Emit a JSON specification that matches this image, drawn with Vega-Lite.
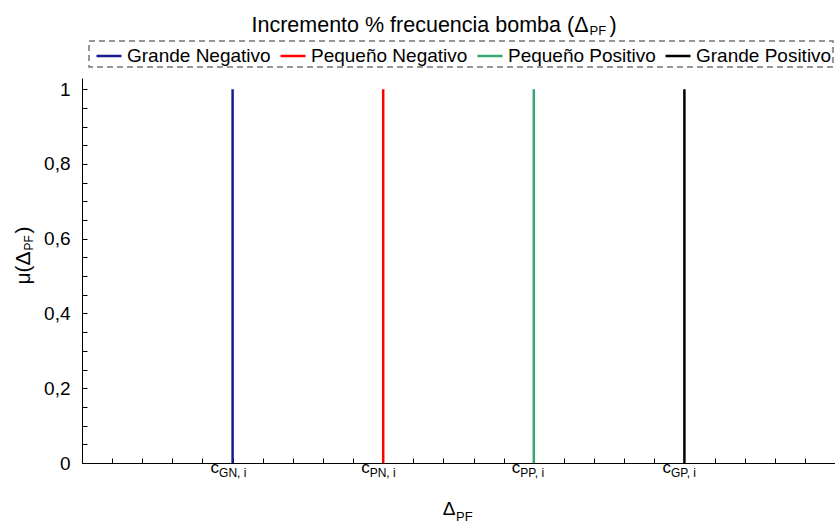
{
  "$schema": "https://vega.github.io/schema/vega-lite/v6.json",
  "width": 753,
  "height": 385,
  "autosize": {"type": "none"},
  "padding": {"left": 82, "top": 78, "right": 0, "bottom": 59},
  "config": {
    "font": "Liberation Sans",
    "view": {"stroke": null},
    "axis": {
      "grid": false,
      "domainColor": "#000000",
      "tickColor": "#000000",
      "labelColor": "#000000",
      "titleColor": "#000000",
      "titleFontWeight": "normal",
      "labelFont": "Liberation Sans",
      "titleFont": "Liberation Sans"
    }
  },
  "data": {
    "values": [
      {"serie": "Grande Negativo", "c": 5, "lo": 0, "hi": 1},
      {"serie": "Pequeño Negativo", "c": 10, "lo": 0, "hi": 1},
      {"serie": "Pequeño Positivo", "c": 15, "lo": 0, "hi": 1},
      {"serie": "Grande Positivo", "c": 20, "lo": 0, "hi": 1}
    ]
  },
  "resolve": {"axis": {"x": "independent", "y": "independent"}},
  "layer": [
    {
      "mark": {"type": "rule", "strokeWidth": 2.5},
      "encoding": {
        "x": {
          "field": "c", "type": "quantitative",
          "scale": {"domain": [0, 25], "nice": false, "zero": false},
          "axis": {
            "orient": "bottom",
            "values": [0,1,2,3,4,5,6,7,8,9,10,11,12,13,14,15,16,17,18,19,20,21,22,23,24,25],
            "tickSize": -5,
            "labelExpr": "indexof([5,10,15,20], datum.value) >= 0 ? 'c' : ''",
            "labelAlign": "right",
            "labelOffset": -14,
            "labelFontSize": 17,
            "labelBaseline": "alphabetic",
            "labelPadding": 14,
            "labelOverlap": false,
            "labelFlush": false,
            "title": "Δ",
            "titleFontSize": 19,
            "titleAlign": "right",
            "titleBaseline": "alphabetic",
            "titleX": 373,
            "titleY": 51
          }
        },
        "y": {
          "field": "lo", "type": "quantitative",
          "scale": {"domain": [0, 1.03], "nice": false},
          "axis": {
            "orient": "left",
            "values": [0,0.05,0.1,0.15,0.2,0.25,0.3,0.35,0.4,0.45,0.5,0.55,0.6,0.65,0.7,0.75,0.8,0.85,0.9,0.95,1],
            "tickSize": -5,
            "labelExpr": "round(datum.value*100) % 20 == 0 ? replace(format(datum.value, '~g'), '.', ',') : ''",
            "labelFontSize": 19,
            "labelPadding": 17,
            "labelOverlap": false,
            "labelFlush": false,
            "title": "μ(Δ",
            "titleFontSize": 21,
            "titleAngle": 270,
            "titleAlign": "left",
            "titleBaseline": "alphabetic",
            "titleX": -53,
            "titleY": 206
          }
        },
        "y2": {"field": "hi"},
        "color": {
          "field": "serie", "type": "nominal",
          "scale": {
            "domain": ["Grande Negativo", "Pequeño Negativo", "Pequeño Positivo", "Grande Positivo"],
            "range": ["#1a1a8f", "#ff0000", "#3aa574", "#000000"]
          },
          "legend": {
            "orient": "none",
            "legendX": 7,
            "legendY": -37,
            "direction": "horizontal",
            "title": null,
            "symbolType": "stroke",
            "symbolSize": 625,
            "symbolStrokeWidth": 2.5,
            "symbolOffset": 5,
            "labelFontSize": 19,
            "labelFont": "Liberation Sans",
            "labelColor": "#000000",
            "labelOffset": 4,
            "labelLimit": 400,
            "columnPadding": 3,
            "padding": 1,
            "strokeColor": "#777777",
            "encode": {
              "legend": {
                "update": {
                  "strokeDash": {"value": [6, 4]},
                  "strokeWidth": {"value": 1.5}
                }
              }
            }
          }
        }
      }
    },
    {
      "mark": {"type": "rule", "opacity": 0},
      "encoding": {
        "x": {
          "field": "c", "type": "quantitative",
          "scale": {"domain": [0, 25], "nice": false, "zero": false},
          "axis": {
            "orient": "bottom",
            "values": [5, 10, 15, 20],
            "ticks": false,
            "domain": false,
            "labelExpr": "datum.value == 5 ? 'GN, i' : datum.value == 10 ? 'PN, i' : datum.value == 15 ? 'PP, i' : 'GP, i'",
            "labelAlign": "left",
            "labelOffset": -14,
            "labelFontSize": 12,
            "labelBaseline": "alphabetic",
            "labelPadding": 13,
            "labelOverlap": false,
            "labelFlush": false,
            "title": "PF",
            "titleFontSize": 13,
            "titleAlign": "left",
            "titleBaseline": "alphabetic",
            "titleX": 373.5,
            "titleY": 57
          }
        },
        "y": {
          "field": "lo", "type": "quantitative",
          "scale": {"domain": [0, 1.03], "nice": false},
          "axis": {
            "orient": "left",
            "labels": false,
            "ticks": false,
            "domain": false,
            "title": "PF",
            "titleFontSize": 12,
            "titleAngle": 270,
            "titleAlign": "left",
            "titleBaseline": "alphabetic",
            "titleX": -50,
            "titleY": 172
          }
        }
      }
    },
    {
      "mark": {"type": "rule", "opacity": 0},
      "encoding": {
        "x": {
          "field": "c", "type": "quantitative",
          "scale": {"domain": [0, 25], "nice": false, "zero": false},
          "axis": {
            "orient": "top",
            "labels": false,
            "ticks": false,
            "domain": false,
            "title": "Incremento % frecuencia bomba (Δ",
            "titleFontSize": 21.5,
            "titleAlign": "right",
            "titleBaseline": "alphabetic",
            "titleX": 506,
            "titleY": -47
          }
        },
        "y": {
          "field": "lo", "type": "quantitative",
          "scale": {"domain": [0, 1.03], "nice": false},
          "axis": {
            "orient": "left",
            "labels": false,
            "ticks": false,
            "domain": false,
            "title": ")",
            "titleFontSize": 21,
            "titleAngle": 270,
            "titleAlign": "left",
            "titleBaseline": "alphabetic",
            "titleX": -53,
            "titleY": 155
          }
        }
      }
    },
    {
      "mark": {"type": "rule", "opacity": 0},
      "encoding": {
        "x": {
          "field": "c", "type": "quantitative",
          "scale": {"domain": [0, 25], "nice": false, "zero": false},
          "axis": {
            "orient": "top",
            "labels": false,
            "ticks": false,
            "domain": false,
            "title": "PF",
            "titleFontSize": 13,
            "titleAlign": "left",
            "titleBaseline": "alphabetic",
            "titleX": 507,
            "titleY": -44
          }
        },
        "y": {
          "field": "lo", "type": "quantitative",
          "scale": {"domain": [0, 1.03], "nice": false},
          "axis": null
        }
      }
    },
    {
      "mark": {"type": "rule", "opacity": 0},
      "encoding": {
        "x": {
          "field": "c", "type": "quantitative",
          "scale": {"domain": [0, 25], "nice": false, "zero": false},
          "axis": {
            "orient": "top",
            "labels": false,
            "ticks": false,
            "domain": false,
            "title": ")",
            "titleFontSize": 21.5,
            "titleAlign": "left",
            "titleBaseline": "alphabetic",
            "titleX": 527,
            "titleY": -47
          }
        },
        "y": {
          "field": "lo", "type": "quantitative",
          "scale": {"domain": [0, 1.03], "nice": false},
          "axis": null
        }
      }
    }
  ]
}
